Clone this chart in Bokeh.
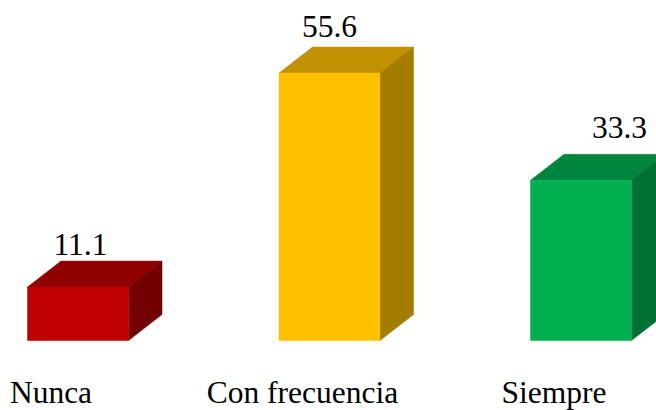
from bokeh.plotting import figure
from bokeh.models import ColumnDataSource
from bokeh.embed import file_html
from bokeh.resources import INLINE
from bokeh.core.properties import value

# ---- data ----
categories = ["Nunca", "Con frecuencia", "Siempre"]
values = [11.1, 55.6, 33.3]
value_labels = ["11.1", "55.6", "33.3"]

# ---- style ----
front_colors = ["#C00000", "#FFC000", "#00B050"]
top_colors = ["#910000", "#C29100", "#00853D"]
side_colors = ["#720000", "#A37C00", "#007034"]
label_dx_px = [2.5, 0, 38.5]      # value label horizontal nudge (px)
label_dy_px = [-43, -47, -53]     # value label offset above bar front top (px)

W, H = 656, 410
px_x = 251.5          # px per category step
px_y = 4.81           # px per value unit
x0_px = 77.5          # canvas x of first category
y0_px = 340           # canvas y (from top) of baseline

bar_w = 101 / px_x
dx = 33.5 / px_x
dy = 26 / px_y

p = figure(width=W, height=H, output_backend="svg", toolbar_location=None,
           x_range=(-x0_px / px_x, (W - x0_px) / px_x),
           y_range=(-(H - y0_px) / px_y, y0_px / px_y),
           min_border=0, min_border_left=0, min_border_right=0,
           min_border_top=0, min_border_bottom=0)
p.axis.visible = False
p.grid.visible = False
p.outline_line_color = None
p.background_fill_color = "white"
p.border_fill_color = "white"

xs = list(range(len(categories)))
left = [x - bar_w / 2 for x in xs]
right = [x + bar_w / 2 for x in xs]

# top faces
top_xs = [[l, r, r + dx, l + dx] for l, r in zip(left, right)]
top_ys = [[v, v, v + dy, v + dy] for v in values]
p.patches(top_xs, top_ys, fill_color=top_colors, line_color=top_colors, line_width=0.5)

# side faces
side_xs = [[r, r + dx, r + dx, r] for r in right]
side_ys = [[0, dy, v + dy, v] for v in values]
p.patches(side_xs, side_ys, fill_color=side_colors, line_color=side_colors, line_width=0.5)

# front faces
p.quad(left=left, right=right, bottom=[0] * len(values), top=values,
       fill_color=front_colors, line_color=front_colors, line_width=0.5)

# value labels
src = ColumnDataSource(dict(x=xs, y=values, t=value_labels, dxp=label_dx_px, dyp=label_dy_px))
p.text(x="x", y="y", text="t", source=src, x_offset="dxp", y_offset="dyp",
       text_align="center", text_baseline="alphabetic",
       text_font=value("Liberation Serif"), text_font_size="31.5px", text_color="#000000")

# category labels
csrc = ColumnDataSource(dict(x=xs, y=[0] * len(xs), t=categories))
p.text(x="x", y="y", text="t", source=csrc, x_offset=-27, y_offset=51.5,
       text_align="center", text_baseline="alphabetic",
       text_font=value("Liberation Serif"), text_font_size="31.5px", text_color="#000000")

open("out.html", "w").write(file_html(p, INLINE))
